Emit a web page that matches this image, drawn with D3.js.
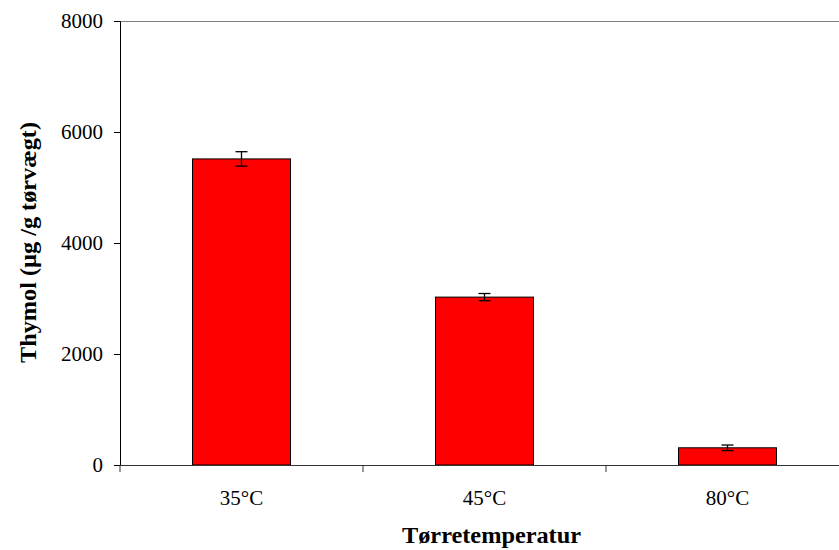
<!DOCTYPE html>
<html><head><meta charset="utf-8">
<script src="https://cdn.jsdelivr.net/npm/d3@7"></script>
<style>body{margin:0;background:#fff}svg{display:block}</style>
</head><body>
<svg id="c" width="839" height="550"></svg>
<script>
const categories = ["35°C", "45°C", "80°C"];
const values = [5515, 3025, 310];
const errors = [130, 65, 50];
const yTicks = [0, 2000, 4000, 6000, 8000];

const svg = d3.select("#c");
const m = {l:120, t:21, r:849, b:465};
const x = d3.scaleBand().domain(categories).range([m.l, m.r]).paddingInner(0).paddingOuter(0);
const y = d3.scaleLinear().domain([0, 8000]).range([m.b, m.t]);
const font = "'Liberation Serif', 'Times New Roman', serif";

// top frame line
svg.append("line").attr("x1", m.l).attr("x2", 839).attr("y1", m.t+0.5).attr("y2", m.t+0.5)
  .attr("stroke", "#808080").attr("stroke-width", 1);

// bars
const bw = 98;
svg.selectAll("rect.bar").data(values).enter().append("rect")
  .attr("x", (d,i) => x(categories[i]) + x.bandwidth()/2 - bw/2)
  .attr("y", d => y(d))
  .attr("width", bw)
  .attr("height", d => y(0) - y(d))
  .attr("fill", "#ff0000").attr("stroke", "#000").attr("stroke-width", 1);

// error bars
const eg = svg.append("g").attr("stroke", "#000").attr("stroke-width", 1.3);
values.forEach((v,i) => {
  const cx = x(categories[i]) + x.bandwidth()/2;
  eg.append("line").attr("x1", cx).attr("x2", cx).attr("y1", y(v+errors[i])).attr("y2", y(v-errors[i]));
  [v+errors[i], v-errors[i]].forEach(e => {
    eg.append("line").attr("x1", cx-6).attr("x2", cx+6).attr("y1", y(e)).attr("y2", y(e));
  });
});

// y axis
const ya = svg.append("g").attr("transform", `translate(${m.l},0)`)
  .call(d3.axisLeft(y).tickValues(yTicks).tickSize(6).tickPadding(11).tickFormat(d3.format("d")));
ya.select(".domain").attr("stroke", "#000");
ya.selectAll(".tick line").attr("stroke", "#000");
ya.selectAll("text").attr("font-family", font).attr("font-size", 21).attr("fill", "#000");

// x axis
const xa = svg.append("g").attr("transform", `translate(0,${m.b})`)
  .call(d3.axisBottom(x).tickSize(0).tickPadding(25));
xa.select(".domain").attr("stroke", "#333");
xa.selectAll("text").attr("font-family", font).attr("font-size", 21).attr("fill", "#000");
// category boundary ticks
const bounds = categories.map(c => x(c)).concat([x(categories[categories.length-1]) + x.bandwidth()]);
svg.append("g").selectAll("line").data(bounds).enter().append("line")
  .attr("x1", d => d).attr("x2", d => d).attr("y1", m.b).attr("y2", m.b+7)
  .attr("stroke", "#333");

// titles
svg.append("text").attr("x", 491.5).attr("y", 543).attr("text-anchor", "middle")
  .attr("font-family", font).attr("font-size", 23.5).attr("font-weight", "bold")
  .attr("textLength", 179).attr("lengthAdjust", "spacingAndGlyphs").text("Tørretemperatur");
svg.append("text").attr("transform", `translate(36,242.5) rotate(-90)`).attr("text-anchor", "middle")
  .attr("font-family", font).attr("font-size", 23).attr("font-weight", "bold")
  .attr("textLength", 241).attr("lengthAdjust", "spacingAndGlyphs").text("Thymol (µg /g tørvægt)");
</script>
</body></html>
